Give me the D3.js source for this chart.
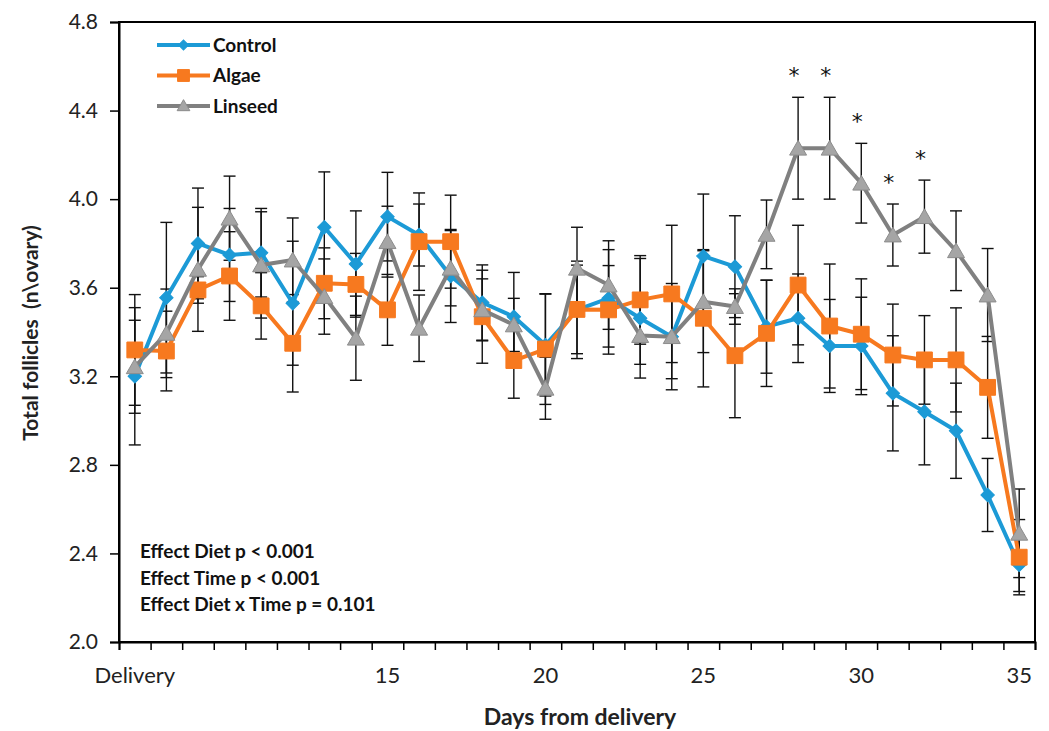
<!DOCTYPE html>
<html>
<head>
<meta charset="utf-8">
<script src="https://cdn.jsdelivr.net/npm/d3@7"></script>
<style>
  body { margin: 0; background: #fff; }
  svg { font-family: Lato, "Open Sans", sans-serif; }
</style>
</head>
<body>
<svg id="chart" width="1049" height="731"></svg>
<script>
// categories on the x axis (Delivery, then days 8..35)
const days = ["Delivery", "8", "9", "10", "11", "12", "13", "14", "15", "16", "17", "18", "19", "20",
  "21", "22", "23", "24", "25", "26", "27", "28", "29", "30", "31", "32", "33", "34", "35"];
const shownLabels = ["Delivery", "15", "20", "25", "30", "35"];
const yTicks = [2.0, 2.4, 2.8, 3.2, 3.6, 4.0, 4.4, 4.8];

// means
const control = [3.20, 3.555, 3.80, 3.748, 3.758, 3.53, 3.873, 3.707, 3.921, 3.838, 3.653, 3.533, 3.469, 3.341,
  3.50, 3.552, 3.462, 3.379, 3.743, 3.695, 3.424, 3.462, 3.337, 3.337, 3.123, 3.04, 2.954, 2.664, 2.348];
const algae = [3.319, 3.314, 3.59, 3.653, 3.518, 3.349, 3.62, 3.615, 3.50, 3.808, 3.808, 3.469, 3.271, 3.323,
  3.502, 3.50, 3.545, 3.572, 3.462, 3.293, 3.394, 3.612, 3.427, 3.39, 3.296, 3.274, 3.274, 3.15, 2.383];
const linseed = [3.243, 3.394, 3.683, 3.914, 3.703, 3.725, 3.56, 3.372, 3.808, 3.417, 3.688, 3.50, 3.432, 3.146,
  3.688, 3.612, 3.384, 3.379, 3.537, 3.515, 3.841, 4.23, 4.23, 4.072, 3.838, 3.921, 3.767, 3.567, 2.491];

// standard errors
const controlSE = [0.31, 0.34, 0.25, 0.21, 0.2, 0.28, 0.25, 0.24, 0.2, 0.14, 0.21, 0.17, 0.2, 0.23,
  0.22, 0.22, 0.27, 0.24, 0.28, 0.23, 0.21, 0.2, 0.21, 0.22, 0.26, 0.24, 0.215, 0.165, 0.12];
const algaeSE = [0.25, 0.18, 0.06, 0.2, 0.15, 0.22, 0.16, 0.14, 0.16, 0.22, 0.21, 0.21, 0.17, 0.25,
  0.2, 0.2, 0.2, 0.31, 0.31, 0.28, 0.24, 0.27, 0.28, 0.25, 0.23, 0.2, 0.235, 0.23, 0.17];
const linseedSE = [0.21, 0.2, 0.28, 0.19, 0.24, 0.19, 0.17, 0.19, 0.16, 0.15, 0.17, 0.14, 0.12, 0.14,
  0.185, 0.2, 0.13, 0.19, 0.23, 0.08, 0.155, 0.23, 0.23, 0.18, 0.14, 0.165, 0.18, 0.21, 0.2];

// days where Linseed differs (asterisks)
const starDays = ["28", "29", "30", "31", "32"];

const notes = ["Effect Diet p < 0.001", "Effect Time p < 0.001", "Effect Diet x Time p = 0.101"];

const series = [
  { name: "Control", values: control, se: controlSE, line: "#1c9ad6", fill: "#1c9ad6", shape: "diamond" },
  { name: "Algae", values: algae, se: algaeSE, line: "#f7791f", fill: "#f7791f", shape: "square" },
  { name: "Linseed", values: linseed, se: linseedSE, line: "#808080", fill: "#a5a5a5", shape: "triangle" }
];

const svg = d3.select("#chart"),
  margin = { top: 22, right: 14, bottom: 89, left: 119 },
  width = +svg.attr("width"),
  height = +svg.attr("height");

svg.append("rect").attr("width", width).attr("height", height).attr("fill", "#fff");

const x = d3.scaleBand()
  .domain(days)
  .range([margin.left, width - margin.right]);

// boundaries between categories (tick marks sit between days)
const xEdge = d3.scaleLinear()
  .domain([0, days.length])
  .range([margin.left, width - margin.right]);

const y = d3.scaleLinear()
  .domain([2.0, 4.8])
  .range([height - margin.bottom, margin.top]);

const cx = (d) => x(d) + x.bandwidth() / 2;

// plot frame
svg.append("rect")
  .attr("x", margin.left)
  .attr("y", margin.top)
  .attr("width", width - margin.right - margin.left)
  .attr("height", height - margin.bottom - margin.top)
  .attr("fill", "none")
  .attr("stroke", "#000")
  .attr("stroke-width", 2);

// y axis
const yAxis = svg.append("g")
  .attr("transform", `translate(${margin.left},0)`)
  .call(d3.axisLeft(y).tickValues(yTicks).tickFormat(d3.format(".1f")).tickSize(9).tickPadding(12));
yAxis.select(".domain").attr("stroke-width", 2);
yAxis.selectAll("line").attr("stroke-width", 1.5);
yAxis.selectAll("text").attr("font-size", 21).attr("fill", "#222").style("font-family", "Lato, sans-serif");

// x axis: ticks at category edges
const xTicks = svg.append("g")
  .attr("transform", `translate(0,${height - margin.bottom})`)
  .call(d3.axisBottom(xEdge).tickValues(d3.range(days.length + 1)).tickFormat("").tickSize(8));
xTicks.select(".domain").attr("stroke-width", 2);
xTicks.selectAll("line").attr("stroke-width", 1.5);

// x axis labels at category centers
const xLabels = svg.append("g")
  .attr("transform", `translate(0,${height - margin.bottom})`)
  .call(d3.axisBottom(x).tickSize(0).tickPadding(25).tickFormat((d) => shownLabels.includes(d) ? d : ""));
xLabels.select(".domain").remove();
xLabels.selectAll("text").attr("font-size", 22).attr("fill", "#222").style("font-family", "Lato, sans-serif");

// axis titles
svg.append("text")
  .attr("x", 580)
  .attr("y", 725)
  .attr("text-anchor", "middle")
  .attr("font-size", 23)
  .attr("font-weight", "bold")
  .attr("fill", "#222")
  .text("Days from delivery");

svg.append("text")
  .attr("transform", "translate(38,333) rotate(-90)")
  .attr("text-anchor", "middle")
  .attr("font-size", 21)
  .attr("font-weight", "bold")
  .attr("fill", "#222")
  .style("white-space", "pre")
  .text("Total follicles  (n\\ovary)");

function symbolFor(shape, scale) {
  const s = scale || 1;
  if (shape === "diamond") return d3.symbol().type(d3.symbolSquare).size(90 * s * s)();
  if (shape === "square") return d3.symbol().type(d3.symbolSquare).size(250 * s * s)();
  return d3.symbol().type(d3.symbolTriangle).size(125 * s * s)();
}

// error bars
series.forEach((s) => {
  const g = svg.append("g").attr("stroke", "#111").attr("stroke-width", 1.4);
  s.values.forEach((v, i) => {
    const xc = cx(days[i]);
    const lo = y(v - s.se[i]), hi = y(v + s.se[i]);
    g.append("line").attr("x1", xc).attr("x2", xc).attr("y1", lo).attr("y2", hi);
    g.append("line").attr("x1", xc - 6).attr("x2", xc + 6).attr("y1", lo).attr("y2", lo);
    g.append("line").attr("x1", xc - 6).attr("x2", xc + 6).attr("y1", hi).attr("y2", hi);
  });
});

// lines and markers
const line = d3.line()
  .x((d, i) => cx(days[i]))
  .y((d) => y(d));

series.forEach((s) => {
  svg.append("path")
    .datum(s.values)
    .attr("fill", "none")
    .attr("stroke", s.line)
    .attr("stroke-width", 4)
    .attr("stroke-linejoin", "round")
    .attr("d", line);

  svg.selectAll(".m-" + s.name)
    .data(s.values)
    .enter()
    .append("path")
    .attr("class", "m-" + s.name)
    .attr("d", symbolFor(s.shape))
    .attr("transform", (d, i) => `translate(${cx(days[i])},${y(d) + (s.shape === "triangle" ? 2 : 0)})` + (s.shape === "diamond" ? " rotate(45)" : ""))
    .attr("fill", s.fill)
    .attr("stroke", s.shape === "triangle" ? "#8c8c8c" : s.fill)
    .attr("stroke-width", 1);
});

// asterisks above Linseed
svg.selectAll(".star")
  .data(starDays)
  .enter()
  .append("text")
  .attr("class", "star")
  .attr("x", (d) => cx(d) - 4)
  .attr("y", (d) => {
    const i = days.indexOf(d);
    return y(linseed[i] + linseedSE[i]) - 14;
  })
  .attr("text-anchor", "middle")
  .attr("font-size", 22)
  .attr("fill", "#111")
  .style("font-family", "'DejaVu Sans', sans-serif")
  .text("*");

// legend
const legend = svg.append("g").attr("transform", "translate(157,45)");
series.forEach((s, k) => {
  const row = legend.append("g").attr("transform", `translate(0,${k * 30.5})`);
  row.append("line").attr("x1", 0).attr("x2", 53).attr("stroke", s.line).attr("stroke-width", 4);
  row.append("path")
    .attr("d", symbolFor(s.shape, 0.75))
    .attr("transform", `translate(26.5,${s.shape === "triangle" ? 1 : 0})` + (s.shape === "diamond" ? " rotate(45)" : ""))
    .attr("fill", s.fill)
    .attr("stroke", s.shape === "triangle" ? "#8c8c8c" : s.fill);
  row.append("text")
    .attr("x", 56)
    .attr("y", 6.5)
    .attr("font-size", 19)
    .attr("font-weight", "bold")
    .attr("fill", "#111")
    .text(s.name);
});

// statistics notes
svg.selectAll(".note")
  .data(notes)
  .enter()
  .append("text")
  .attr("class", "note")
  .attr("x", 140)
  .attr("y", (d, i) => 558 + i * 26.6)
  .attr("font-size", 19)
  .attr("font-weight", "bold")
  .attr("fill", "#111")
  .text((d) => d);
</script>
</body>
</html>
